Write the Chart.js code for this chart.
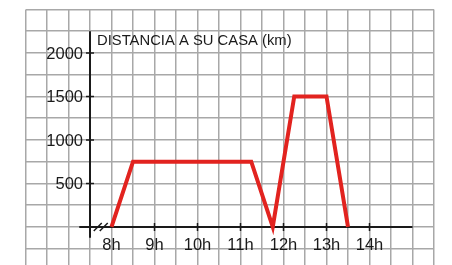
<!DOCTYPE html>
<html>
<head>
<meta charset="utf-8">
<script src="https://cdn.jsdelivr.net/npm/chart.js@4/dist/chart.umd.min.js"></script>
<style>
  body { margin: 0; background: #fff; }
  canvas { display: block; }
</style>
</head>
<body>
<canvas id="chart" width="452" height="265"></canvas>
<script>
// data
const times = [8, 8.5, 11.25, 11.75, 12.25, 13, 13.5];
const distances = [0, 750, 750, 0, 1500, 1500, 0];
const hourTicks = [8, 9, 10, 11, 12, 13, 14];
const hourLabels = ["8h", "9h", "10h", "11h", "12h", "13h", "14h"];
const distTicks = [500, 1000, 1500, 2000];
const distLabels = ["500", "1000", "1500", "2000"];
const axisTitle = "DISTANCIA A SU CASA (km)";

const gridX = [];
for (let v = 6; v <= 15.5; v += 0.5) gridX.push(v);
const gridY = [];
for (let v = -250; v <= 2500; v += 250) gridY.push(v);

const axesPlugin = {
  id: "axes",
  beforeDatasetsDraw(chart) {
    const { ctx, scales: { x, y } } = chart;
    const x0 = x.getPixelForValue(7.5);
    const y0 = y.getPixelForValue(0);
    ctx.save();
    ctx.strokeStyle = "#1a1a1a";
    ctx.lineWidth = 2;
    ctx.beginPath();
    ctx.moveTo(x0, y.getPixelForValue(2250));
    ctx.lineTo(x0, y.getPixelForValue(-125));
    ctx.moveTo(x.getPixelForValue(7.25), y0);
    ctx.lineTo(x.getPixelForValue(15), y0);
    ctx.stroke();

    // tick marks
    ctx.lineWidth = 1.5;
    ctx.beginPath();
    distTicks.forEach(v => {
      const py = y.getPixelForValue(v);
      ctx.moveTo(x0 - 4, py);
      ctx.lineTo(x0 + 4, py);
    });
    hourTicks.slice(1).forEach(v => {
      const px = x.getPixelForValue(v);
      ctx.moveTo(px, y0 - 4);
      ctx.lineTo(px, y0 + 4);
    });
    // break marks
    const bx = x.getPixelForValue(7.75);
    [-3, 3].forEach(d => {
      ctx.moveTo(bx + d - 4, y0 + 4);
      ctx.lineTo(bx + d + 4, y0 - 4);
    });
    ctx.stroke();

    ctx.fillStyle = "#1a1a1a";
    ctx.font = "16.5px 'Liberation Sans', Arial, sans-serif";
    ctx.textAlign = "right";
    ctx.textBaseline = "middle";
    distTicks.forEach((v, i) => {
      ctx.fillText(distLabels[i], x0 - 7, y.getPixelForValue(v) + 1);
    });
    ctx.textAlign = "center";
    ctx.textBaseline = "alphabetic";
    hourTicks.forEach((v, i) => {
      ctx.fillText(hourLabels[i], x.getPixelForValue(v), y0 + 23);
    });

    ctx.font = "14.8px 'Liberation Sans', Arial, sans-serif";
    ctx.textAlign = "left";
    ctx.fillText(axisTitle, x0 + 7, y.getPixelForValue(2000) - 8);
    ctx.restore();
  }
};

new Chart(document.getElementById("chart"), {
  type: "line",
  data: {
    datasets: [{
      data: times.map((t, i) => ({ x: t, y: distances[i] })),
      borderColor: "#e2231f",
      borderWidth: 4,
      borderJoinStyle: "miter",
      pointRadius: 0,
      tension: 0,
      fill: false
    }]
  },
  options: {
    responsive: false,
    animation: false,
    layout: { padding: { left: 25.5, right: 18, top: 9.5, bottom: 0 } },
    plugins: { legend: { display: false }, tooltip: { enabled: false } },
    scales: {
      x: {
        type: "linear",
        min: 6,
        max: 15.5,
        afterBuildTicks: s => { s.ticks = gridX.map(v => ({ value: v })); },
        ticks: { display: false },
        grid: { color: "#a8a8a8", lineWidth: 1.5, drawTicks: false },
        border: { display: false }
      },
      y: {
        type: "linear",
        min: -437.5,
        max: 2500,
        afterBuildTicks: s => { s.ticks = gridY.map(v => ({ value: v })); },
        ticks: { display: false },
        grid: { color: "#a8a8a8", lineWidth: 1.5, drawTicks: false },
        border: { display: false }
      }
    }
  },
  plugins: [axesPlugin]
});
</script>
</body>
</html>
